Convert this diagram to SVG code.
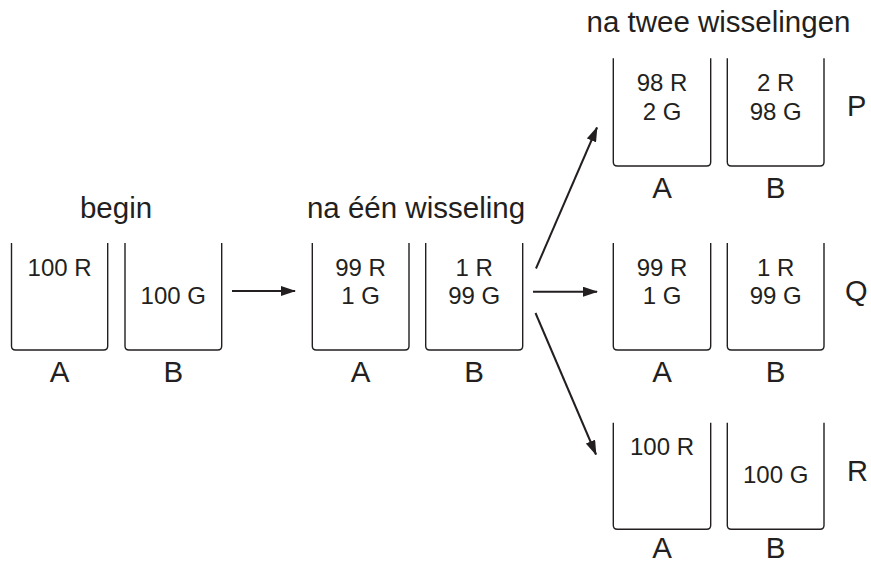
<svg xmlns="http://www.w3.org/2000/svg" width="871" height="561" viewBox="0 0 871 561">
<style>
.bk{fill:none;stroke:#231f20;stroke-width:1.4}
.t{font-family:"Liberation Sans",Arial,sans-serif;fill:#231f20;text-anchor:middle}
.c{font-size:24px}
.l{font-size:29.5px}
.s{font-family:"Liberation Sans",Arial,sans-serif;fill:#231f20;font-size:29px}
.ar{stroke:#231f20;stroke-width:2;fill:none;marker-end:url(#ah)}
</style>
<defs>
<marker id="ah" markerWidth="15" markerHeight="10" refX="14" refY="5" orient="auto" markerUnits="userSpaceOnUse">
<path d="M0,0 L15,5 L0,10 Z" fill="#231f20"/>
</marker>
</defs>
<rect width="871" height="561" fill="#fff"/>
<text class="t l" x="116" y="218">begin</text>
<text class="t l" x="416" y="218">na één wisseling</text>
<text class="t l" x="718.5" y="32">na twee wisselingen</text>

<g id="begin-A">
<path class="bk" d="M11.5,243 V346 Q11.5,350 15.5,350 H103.7 Q107.7,350 107.7,346 V243"/>
<text class="t c" x="59.6" y="275.5">100 R</text>
<text class="t l" x="59.6" y="382">A</text>
</g>
<g id="begin-B">
<path class="bk" d="M125,243 V346 Q125,350 129,350 H217.7 Q221.7,350 221.7,346 V243"/>
<text class="t c" x="173.3" y="304">100 G</text>
<text class="t l" x="173.3" y="382">B</text>
</g>

<g id="een-A">
<path class="bk" d="M312.3,243 V346 Q312.3,350 316.3,350 H405 Q409,350 409,346 V243"/>
<text class="t c" x="360.6" y="275.5">99 R</text>
<text class="t c" x="360.6" y="304">1 G</text>
<text class="t l" x="360.6" y="382">A</text>
</g>
<g id="een-B">
<path class="bk" d="M425.7,243 V346 Q425.7,350 429.7,350 H518.7 Q522.7,350 522.7,346 V243"/>
<text class="t c" x="474.2" y="275.5">1 R</text>
<text class="t c" x="474.2" y="304">99 G</text>
<text class="t l" x="474.2" y="382">B</text>
</g>

<g id="P-A">
<path class="bk" d="M613.3,58.3 V162 Q613.3,166 617.3,166 H706.7 Q710.7,166 710.7,162 V58.3"/>
<text class="t c" x="662" y="91">98 R</text>
<text class="t c" x="662" y="119.5">2 G</text>
<text class="t l" x="662" y="198">A</text>
</g>
<g id="P-B">
<path class="bk" d="M727.3,58.3 V162 Q727.3,166 731.3,166 H820 Q824,166 824,162 V58.3"/>
<text class="t c" x="775.7" y="91">2 R</text>
<text class="t c" x="775.7" y="119.5">98 G</text>
<text class="t l" x="775.7" y="198">B</text>
</g>
<text class="s" x="847" y="116">P</text>

<g id="Q-A">
<path class="bk" d="M613.3,243 V346 Q613.3,350 617.3,350 H706.7 Q710.7,350 710.7,346 V243"/>
<text class="t c" x="662" y="275.5">99 R</text>
<text class="t c" x="662" y="304">1 G</text>
<text class="t l" x="662" y="382">A</text>
</g>
<g id="Q-B">
<path class="bk" d="M727.3,243 V346 Q727.3,350 731.3,350 H820 Q824,350 824,346 V243"/>
<text class="t c" x="775.7" y="275.5">1 R</text>
<text class="t c" x="775.7" y="304">99 G</text>
<text class="t l" x="775.7" y="382">B</text>
</g>
<text class="s" x="845" y="301">Q</text>

<g id="R-A">
<path class="bk" d="M613.3,422.7 V525.3 Q613.3,529.3 617.3,529.3 H706.7 Q710.7,529.3 710.7,525.3 V422.7"/>
<text class="t c" x="662" y="454.5">100 R</text>
<text class="t l" x="662" y="558">A</text>
</g>
<g id="R-B">
<path class="bk" d="M727.3,422.7 V525.3 Q727.3,529.3 731.3,529.3 H820 Q824,529.3 824,525.3 V422.7"/>
<text class="t c" x="775.7" y="483">100 G</text>
<text class="t l" x="775.7" y="558">B</text>
</g>
<text class="s" x="847" y="481">R</text>

<g id="connectors">
<line class="ar" x1="232" y1="291" x2="295" y2="291"/>
<line class="ar" x1="533" y1="291.7" x2="597" y2="291.7"/>
<line class="ar" x1="536" y1="268.5" x2="597" y2="127.5"/>
<line class="ar" x1="535.5" y1="313" x2="596" y2="454.5"/>
</g>
</svg>
